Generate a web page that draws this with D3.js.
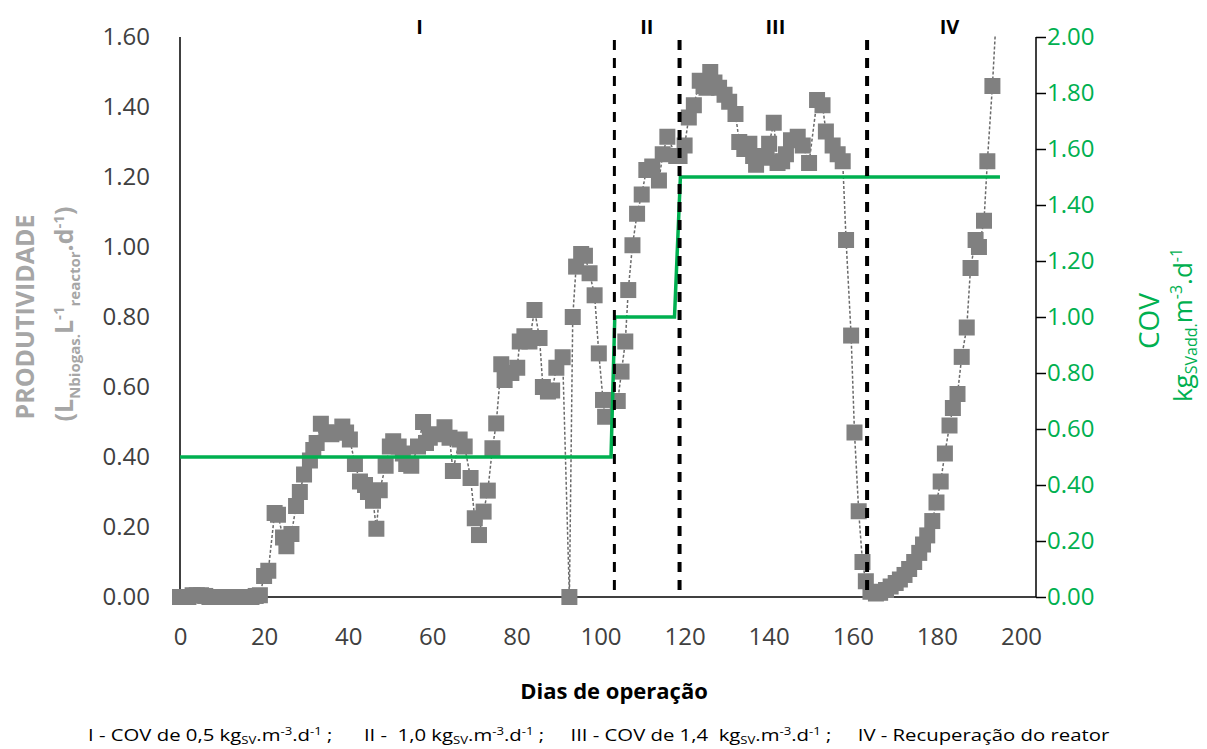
<!DOCTYPE html>
<html>
<head>
<meta charset="utf-8">
<script src="https://cdn.jsdelivr.net/npm/d3@7"></script>
<style>
  body { margin: 0; background: #fff; }
  svg { display: block; font-family: "Open Sans", "Noto Sans", sans-serif; }
</style>
</head>
<body>
<svg id="chart" width="1207" height="749"></svg>
<script>
// Operation day of each measurement
const days = [
  0,1,2,3,4,5,6,7,8,9,10,11,12,13,14,15,16,17,18,19,
  20,21,22.5,23.3,24.5,25.3,26.5,27.6,28.5,29.5,30.9,31.7,32.5,33.5,34.8,36,36.8,38.6,39.5,40.4,
  41.6,42.8,44,44.7,45.9,46.7,47.5,48.9,49.9,50.7,52,53,53.8,55,56.6,57.8,58.5,59.4,61,62.9,
  64.1,64.9,66.5,67.7,69.1,70.1,71.1,72.2,73.2,74.3,75.2,76.4,77.2,78.8,80.2,80.8,81.9,83.1,84.3,85.5,
  86.3,87.5,88.5,89.5,91,92.6,93.4,94.2,95.4,96.3,97.4,98.6,99.6,100.6,101.1,
  104.1,105,105.9,106.6,107.6,108.7,109.8,110.9,112.3,113.9,114.8,115.9,118,118.8,120,121,122.2,123.6,124.5,125.2,
  126.1,127.1,128.2,129.5,130.6,132.1,133,134.2,135.4,136.3,137,138.6,139.5,140.1,141.2,142.1,143.2,144.1,145.3,146.9,
  148.1,149.6,151.5,152.8,153.6,155.2,156.4,157.6,158.4,159.6,160.4,161.4,162.3,163.1,164.2,165.5,166.5,167.9,169,170.2,
  171.2,172.3,173.4,174.6,175.8,176.7,177.7,178.9,179.9,180.9,181.9,183,183.8,184.9,185.9,187.1,188,189.2,190,191.2,
  192,193.2,194.2
];

// Biogas productivity (LN biogas . L-1 reactor . d-1)
const productivity = [
  0,0,0,0.005,0.005,0.005,0.003,0,0,0,0,0,0,0,0,0,0,0,0.003,0.005,
  0.06,0.075,0.24,0.235,0.17,0.145,0.18,0.26,0.30,0.35,0.39,0.42,0.44,0.495,0.47,0.465,0.47,0.487,0.47,0.45,
  0.38,0.33,0.32,0.30,0.275,0.195,0.305,0.375,0.43,0.445,0.43,0.41,0.38,0.375,0.43,0.50,0.44,0.455,0.465,0.485,
  0.455,0.36,0.45,0.43,0.34,0.225,0.177,0.244,0.304,0.425,0.496,0.665,0.62,0.64,0.655,0.73,0.745,0.73,0.82,0.74,
  0.60,0.587,0.59,0.655,0.685,0,0.80,0.944,0.98,0.975,0.925,0.862,0.696,0.563,0.515,
  0.56,0.644,0.73,0.877,1.005,1.095,1.15,1.22,1.23,1.19,1.265,1.315,1.26,1.26,1.29,1.37,1.405,1.475,1.46,1.455,
  1.50,1.47,1.455,1.435,1.415,1.38,1.30,1.28,1.295,1.26,1.235,1.255,1.26,1.295,1.355,1.24,1.245,1.265,1.305,1.315,
  1.29,1.24,1.42,1.405,1.33,1.29,1.265,1.245,1.02,0.747,0.47,0.245,0.10,0.045,0.015,0.01,0.012,0.02,0.03,0.04,
  0.05,0.063,0.08,0.10,0.126,0.15,0.176,0.217,0.27,0.33,0.41,0.49,0.54,0.58,0.686,0.77,0.94,1.02,1.0,1.075,
  1.245,1.46,1.68
];

// Organic loading rate (COV) steps
const covDays = [0, 102.5, 103.4, 117.6, 119, 195];
const covValues = [0.5, 0.5, 1.0, 1.0, 1.5, 1.5];

// Phase boundaries and phase names
const phaseBoundaries = [103.3, 118.8, 163.4];
const phaseLabels = ["I", "II", "III", "IV"];
const phaseLabelDays = [57, 111, 141.6, 183];

// Tick labels
const xTicks = [0, 20, 40, 60, 80, 100, 120, 140, 160, 180, 200];
const leftTicks = [0, 0.2, 0.4, 0.6, 0.8, 1.0, 1.2, 1.4, 1.6];
const rightTicks = [0, 0.2, 0.4, 0.6, 0.8, 1.0, 1.2, 1.4, 1.6, 1.8, 2.0];

const GREEN = "#00B050";
const plot = { left: 180, right: 1036, top: 37, bottom: 597 };

const svg = d3.select("#chart");
svg.append("rect").attr("width", 1207).attr("height", 749).attr("fill", "#fff");

const x = d3.scaleLinear().domain([0, 200]).range([180, 1021]);
const yL = d3.scaleLinear().domain([0, 1.6]).range([plot.bottom, plot.top]);
const yR = d3.scaleLinear().domain([0, 2]).range([plot.bottom, plot.top]);

// Clip for the connecting line (values above the axis maximum are cut)
svg.append("defs").append("clipPath").attr("id", "plotClip")
  .append("rect")
  .attr("x", plot.left - 20).attr("y", plot.top - 2)
  .attr("width", plot.right - plot.left + 40).attr("height", plot.bottom - plot.top + 20);

// Axes
const fmt2 = d3.format(".2f");

const gLeft = svg.append("g").attr("transform", `translate(${plot.left},0)`)
  .call(d3.axisLeft(yL).tickValues(leftTicks).tickFormat(fmt2).tickSize(0).tickPadding(30));
gLeft.select(".domain").remove();
gLeft.selectAll("text").attr("fill", "#404040").style("font-size", "24px")
  .style("font-family", "'Open Sans', sans-serif");

const gBottom = svg.append("g").attr("transform", `translate(0,${plot.bottom})`)
  .call(d3.axisBottom(x).tickValues(xTicks).tickFormat(d3.format("d")).tickSize(0).tickPadding(31));
gBottom.select(".domain").remove();
gBottom.selectAll("text").attr("fill", "#404040").style("font-size", "24px")
  .style("font-family", "'Open Sans', sans-serif");

const gRight = svg.append("g").attr("transform", `translate(${plot.right},0)`)
  .call(d3.axisRight(yR).tickValues(rightTicks).tickFormat(fmt2).tickSize(10).tickPadding(1));
gRight.select(".domain").remove();
gRight.selectAll("line").attr("stroke", "#000").attr("stroke-width", 1.5);
gRight.selectAll("text").attr("fill", GREEN).style("font-size", "24px")
  .style("font-family", "'Open Sans', sans-serif");

// Axis lines
svg.append("line").attr("x1", plot.left).attr("x2", plot.left)
  .attr("y1", plot.top).attr("y2", plot.bottom).attr("stroke", "#000").attr("stroke-width", 1.5);
svg.append("line").attr("x1", plot.right).attr("x2", plot.right)
  .attr("y1", plot.top).attr("y2", plot.bottom).attr("stroke", "#000").attr("stroke-width", 1.5);
svg.append("line").attr("x1", plot.left).attr("x2", plot.right)
  .attr("y1", plot.bottom).attr("y2", plot.bottom).attr("stroke", "#000").attr("stroke-width", 1.5);

// Productivity series
const prodData = d3.zip(days, productivity);

svg.append("path")
  .datum(prodData)
  .attr("clip-path", "url(#plotClip)")
  .attr("fill", "none")
  .attr("stroke", "#6a6a6a")
  .attr("stroke-width", 1.5)
  .attr("stroke-dasharray", "3,2")
  .attr("d", d3.line().x(d => x(d[0])).y(d => yL(d[1])));

const ms = 16;
svg.append("g").selectAll("rect")
  .data(prodData.filter(d => d[1] <= 1.6))
  .join("rect")
  .attr("x", d => x(d[0]) - ms / 2)
  .attr("y", d => yL(d[1]) - ms / 2)
  .attr("width", ms).attr("height", ms)
  .attr("fill", "#808080");

// COV step line (secondary axis)
svg.append("path")
  .datum(d3.zip(covDays, covValues))
  .attr("fill", "none")
  .attr("stroke", GREEN)
  .attr("stroke-width", 3.5)
  .attr("stroke-linejoin", "miter")
  .attr("d", d3.line().x(d => x(d[0])).y(d => yR(d[1])));

// Phase separators
svg.append("g").selectAll("line")
  .data(phaseBoundaries)
  .join("line")
  .attr("x1", d => x(d)).attr("x2", d => x(d))
  .attr("y1", plot.top + 3).attr("y2", plot.bottom)
  .attr("stroke", "#000")
  .attr("stroke-width", (d, i) => i === 0 ? 3 : 4)
  .attr("stroke-dasharray", "10,8");

svg.append("g").selectAll("text")
  .data(phaseLabels)
  .join("text")
  .attr("x", (d, i) => x(phaseLabelDays[i]))
  .attr("y", 34)
  .attr("text-anchor", "middle")
  .style("font-size", "20px").style("font-weight", "bold")
  .attr("fill", "#000")
  .text(d => d);

// Rich text helper: parts = [[text, "n" | "sub" | "sup"], ...]
function rich(text, parts, big, small, subShift = 0.28, supShift = 0.38) {
  let shift = 0;
  parts.forEach(([s, kind]) => {
    const target = kind === "sub" ? big * subShift : kind === "sup" ? -big * supShift : 0;
    text.append("tspan")
      .attr("dy", target - shift)
      .style("font-size", (kind === "n" ? big : small) + "px")
      .text(s);
    shift = target;
  });
}

// Left axis title
svg.append("text")
  .attr("transform", "translate(34,317) rotate(-90)")
  .attr("text-anchor", "middle")
  .attr("fill", "#A6A6A6")
  .style("font-weight", "bold").style("font-size", "25px")
  .text("PRODUTIVIDADE");

const leftSub = svg.append("text")
  .attr("transform", "translate(73,314) rotate(-90)")
  .attr("text-anchor", "middle")
  .attr("fill", "#A6A6A6")
  .style("font-weight", "bold");
rich(leftSub, [["(L", "n"], ["Nbiogas.", "sub"], ["L", "n"], ["-1", "sup"], ["reactor", "sub"],
  [".", "n"], ["d", "n"], ["-1", "sup"], [")", "n"]], 25, 15);

// Right axis title
svg.append("text")
  .attr("transform", "translate(1159,321) rotate(-90)")
  .attr("text-anchor", "middle")
  .attr("fill", GREEN)
  .style("font-size", "28px")
  .text("COV");

const rightSub = svg.append("text")
  .attr("transform", "translate(1192,325) rotate(-90)")
  .attr("text-anchor", "middle")
  .attr("fill", GREEN);
rich(rightSub, [["kg", "n"], ["SVadd.", "sub"], ["m", "n"], ["-3", "sup"], [".d", "n"], ["-1", "sup"]],
  26, 16, 0.2, 0.38);

// X axis title
svg.append("text")
  .attr("x", 614).attr("y", 699)
  .attr("text-anchor", "middle")
  .attr("fill", "#000")
  .style("font-weight", "bold").style("font-size", "22px")
  .text("Dias de operação");

// Footer legend for the phases
const footG = svg.append("g").attr("transform", "translate(88,741)");
const foot = footG.append("text").attr("x", 0).attr("y", 0)
  .attr("fill", "#000").style("white-space", "pre");
rich(foot, [
  ["I - COV de 0,5 kg", "n"], ["SV", "sub"], [".m", "n"], ["-3", "sup"], [".d", "n"], ["-1", "sup"],
  [" ;      II -  1,0 kg", "n"], ["SV", "sub"], [".m", "n"], ["-3", "sup"], [".d", "n"], ["-1", "sup"],
  [" ;     III - COV de 1,4  kg", "n"], ["SV", "sub"], [".m", "n"], ["-3", "sup"], [".d", "n"], ["-1", "sup"],
  [" ;     IV - Recuperação do reator", "n"]
], 17, 11, 0.2, 0.38);
const fw = foot.node().getComputedTextLength();
footG.attr("transform", `translate(88,741) scale(${1022 / fw},1)`);
</script>
</body>
</html>
